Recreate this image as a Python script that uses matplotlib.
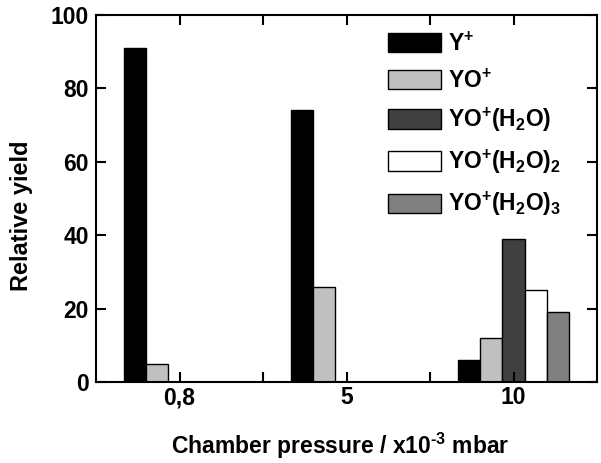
import numpy as np
import matplotlib
matplotlib.use('Agg')
import matplotlib.pyplot as plt
from matplotlib.ticker import MultipleLocator, FixedLocator

plt.rcParams['font.family'] = 'Liberation Sans'
plt.rcParams['font.weight'] = 'bold'
plt.rcParams['mathtext.fontset'] = 'custom'
plt.rcParams['mathtext.rm'] = 'Liberation Sans:bold'
plt.rcParams['mathtext.it'] = 'Liberation Sans:bold'
plt.rcParams['mathtext.bf'] = 'Liberation Sans:bold'
plt.rcParams['mathtext.default'] = 'rm'

# data
pressures = ['0,8', '5', '10']
labels = ['Y$^{+}$', 'YO$^{+}$', 'YO$^{+}$(H$_{2}$O)',
          'YO$^{+}$(H$_{2}$O)$_{2}$', 'YO$^{+}$(H$_{2}$O)$_{3}$']
y_plus = [91, 74, 6]
yo_plus = [5, 26, 12]
yo_h2o = [0, 0, 39]
yo_h2o2 = [0, 0, 25]
yo_h2o3 = [0, 0, 19]
series = [y_plus, yo_plus, yo_h2o, yo_h2o2, yo_h2o3]
colors = ['#000000', '#c0c0c0', '#404040', '#ffffff', '#808080']

fig = plt.figure(figsize=(6.01, 4.63), dpi=100)
ax = fig.add_axes([96/601, 1-382/463, 501/601, 367/463])

x = np.arange(len(pressures))
w = 0.4/3
for i, (vals, c) in enumerate(zip(series, colors)):
    v = np.array(vals, dtype=float)
    m = v > 0
    ax.bar(x[m] + (i-2.5)*w + w/2, v[m], w, color=c, edgecolor='black',
           linewidth=1, label=labels[i])

ax.set_xlim(-0.5, 2.5)
ax.set_ylim(0, 100)
ax.set_xticks(x)
ax.set_xticklabels(pressures)
ax.xaxis.set_minor_locator(FixedLocator([0.5, 1.5]))
ax.yaxis.set_major_locator(MultipleLocator(20))

ax.tick_params(which='both', direction='in', top=True, right=True,
               width=1.5, length=7, labelsize=16.5)
ax.tick_params(axis='x', pad=3)
ax.tick_params(axis='y', pad=5)
for s in ax.spines.values():
    s.set_linewidth(1.5)

ax.set_ylabel('Relative yield', fontsize=17, fontweight='bold')
ax.yaxis.set_label_coords(-0.126, 0.454)
ax.set_xlabel('Chamber pressure / x10$^{\\text{-3}}$ mbar', fontsize=16.5, fontweight='bold')
ax.xaxis.set_label_coords(0.488, -0.196)
ax.xaxis.label.set_va('baseline')

ax.legend(loc='upper left', frameon=False, fontsize=16.5,
          handlelength=2.3, handleheight=0.95, handletextpad=0.3,
          labelspacing=0.6, borderaxespad=0, borderpad=0,
          bbox_to_anchor=((388-96)/501, 1-(32-15)/367))

fig.savefig('out.png', dpi=100)
